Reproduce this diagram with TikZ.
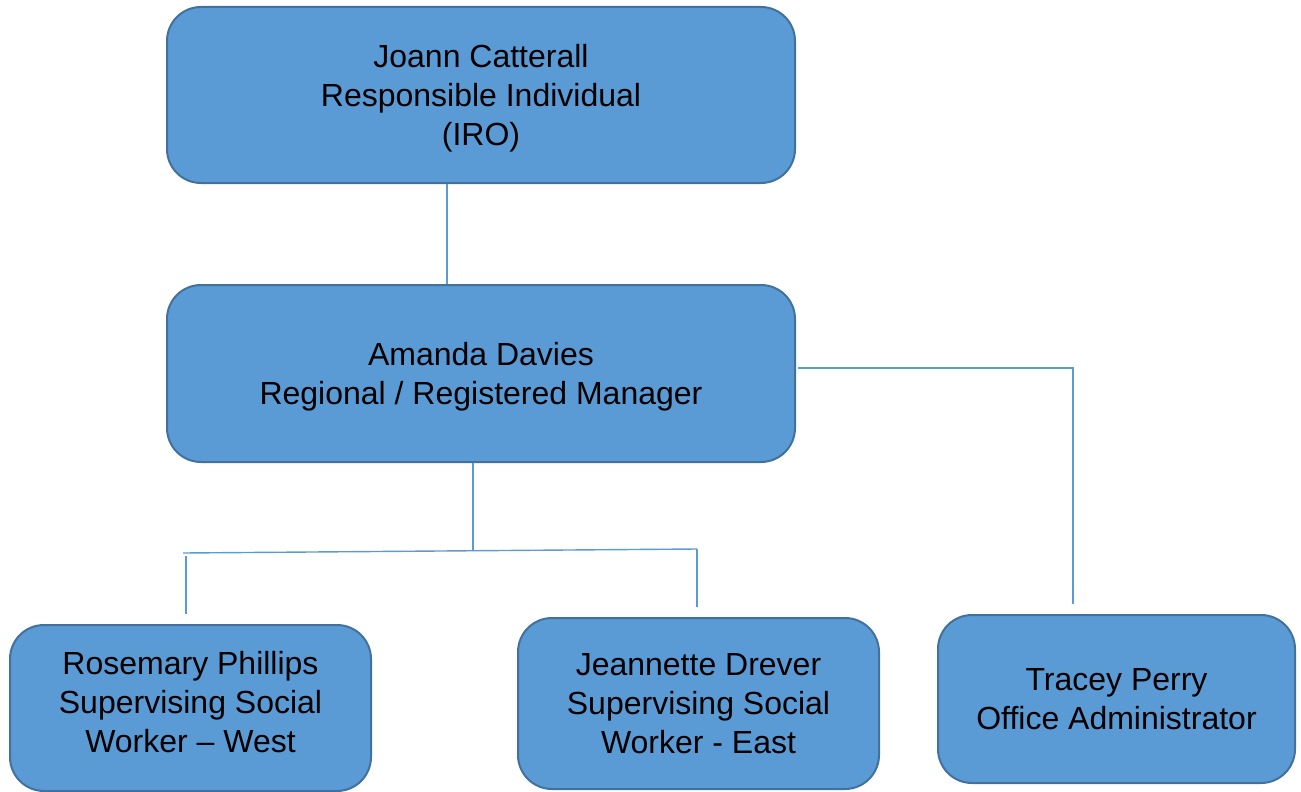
\documentclass[tikz,border=0pt]{standalone}
\usepackage{fontspec}
\setmainfont{Liberation Sans}
\begin{document}
\begin{tikzpicture}[x=1pt,y=-1pt,
  box/.style={draw=boxedge, line width=2pt, fill=boxfill, rounded corners=34pt,
    align=center, inner sep=0pt, font=\fontsize{32}{39}\selectfont, text=black},
  conn/.style={draw=connline, line width=1.4pt}]
\definecolor{boxfill}{HTML}{5B9BD5}
\definecolor{boxedge}{HTML}{41719C}
\definecolor{connline}{HTML}{5B9BD5}
\useasboundingbox (0,0) rectangle (1301,792);
\node[box, minimum width=628pt, minimum height=176pt, text depth=0pt] (top) at (481,95)
  {Joann Catterall\\Responsible Individual\\(IRO)};
\node[box, minimum width=628pt, minimum height=177pt, text depth=-1pt] (mid) at (481,373.5)
  {Amanda Davies\\Regional / Registered Manager};
\node[box, minimum width=361pt, minimum height=166pt, text depth=12pt] (bl) at (190.5,708)
  {Rosemary Phillips\\Supervising Social\\Worker -- West};
\node[box, minimum width=361pt, minimum height=171pt] (bm) at (698.5,703.5)
  {Jeannette Drever\\Supervising Social\\Worker - East};
\node[box, minimum width=357pt, minimum height=168pt] (br) at (1116.5,699)
  {Tracey Perry\\Office Administrator};
% connectors
\coordinate (x1) at (447,0);
\draw[conn] (top.south -| x1) -- (mid.north -| x1);
\coordinate (x2) at (473,550);
\draw[conn] (mid.south -| x2) -- (x2);
\coordinate (hl) at (183,553);
\coordinate (hr) at (697,549);
\draw[conn] (hl) -- (hr);
\coordinate (vl1) at (186,556);
\coordinate (vl2) at (186,614);
\draw[conn] (vl1) -- (vl2);
\coordinate (vm2) at (697,607);
\draw[conn] (hr) -- (vm2);
\coordinate (rc) at (1073,368);
\coordinate (re) at (1073,604);
\draw[conn] (mid.east |- rc) ++(2,0) -- (rc) -- (re);
\end{tikzpicture}
\end{document}
